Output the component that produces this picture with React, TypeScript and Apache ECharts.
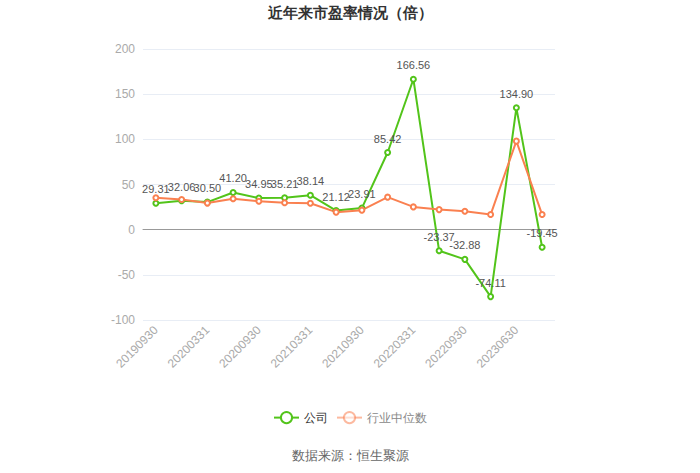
import React, { useEffect, useRef } from "react";
import * as echarts from "echarts";

// 报告期
const dates = [
  "20190930", "20191231", "20200331", "20200630",
  "20200930", "20201231", "20210331", "20210630",
  "20210930", "20211231", "20220331", "20220630",
  "20220930", "20230331", "20230630", "20230930",
];

// 公司市盈率
const companyPE = [
  29.31, 32.06, 30.5, 41.2, 34.95, 35.21, 38.14, 21.12,
  23.91, 85.42, 166.56, -23.37, -32.88, -74.11, 134.9, -19.45,
];

// 行业中位数
const industryPE = [
  35.4, 33.3, 29.4, 34.2, 31.5, 29.7, 29.3, 19.4,
  21.6, 36.0, 25.2, 22.2, 20.4, 16.7, 98.0, 16.7,
];

const App = () => {
  const chartRef = useRef<HTMLDivElement>(null);

  useEffect(() => {
    document.body.style.margin = "0";
    const chart = echarts.init(chartRef.current, undefined, { renderer: "svg" });

    chart.setOption({
      animation: false,
      title: {
        text: "近年来市盈率情况（倍）",
        left: "center",
        top: 0,
        textStyle: { fontSize: 15, fontWeight: "bold", color: "#333" },
      },
      legend: {
        top: 406,
        left: "center",
        itemWidth: 25,
        itemHeight: 14,
        textStyle: { fontSize: 12, color: "#333" },
        data: [
          { name: "公司" },
          { name: "行业中位数", textStyle: { color: "#888" }, itemStyle: { opacity: 0.55 }, lineStyle: { opacity: 0.55 } },
        ],
      },
      graphic: [
        {
          type: "text",
          left: "center",
          top: 449,
          style: { text: "数据来源：恒生聚源", fontSize: 13, fill: "#666" },
        },
      ],
      grid: { left: 143, right: 145, top: 49, bottom: 153 },
      xAxis: {
        type: "category",
        data: dates,
        boundaryGap: true,
        axisLine: { lineStyle: { color: "#999" } },
        axisTick: { alignWithLabel: true, lineStyle: { color: "#999" } },
        axisLabel: { rotate: 45, color: "#aaa", fontSize: 12, interval: 1 },
      },
      yAxis: {
        type: "value",
        min: -100,
        max: 200,
        interval: 50,
        axisLabel: { color: "#aaa", fontSize: 12 },
        splitLine: { lineStyle: { color: "#e8edf5" } },
      },
      series: [
        {
          name: "公司",
          type: "line",
          data: companyPE,
          symbol: "emptyCircle",
          symbolSize: 5,
          color: "#52c41a",
          lineStyle: { width: 2 },
          label: {
            show: true,
            position: "top",
            color: "#555",
            fontSize: 11,
            formatter: (p: any) => p.value.toFixed(2),
          },
        },
        {
          name: "行业中位数",
          type: "line",
          data: industryPE,
          symbol: "emptyCircle",
          symbolSize: 5,
          color: "#fa8050",
          lineStyle: { width: 2 },
        },
      ],
    });

    return () => chart.dispose();
  }, []);

  return <div ref={chartRef} style={{ width: "700px", height: "473px" }} />;
};

export default App;
